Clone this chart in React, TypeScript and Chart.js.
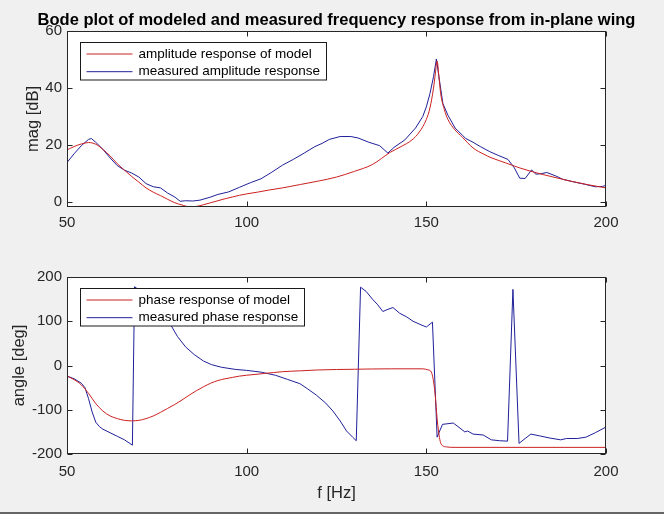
import { useEffect, useRef } from "react";
import { Chart, registerables } from "chart.js";

Chart.register(...registerables);

const FONT = '"Liberation Sans", Arial, Helvetica, sans-serif';
const RED = "#cc2020";
const BLUE = "#20209a";
const AXIS = "#262626";

// frequency axis ticks (Hz)
const freqTicks = [50, 100, 150, 200];
const magTicks = [0, 20, 40, 60];
const phaseTicks = [-200, -100, 0, 100, 200];

// model amplitude response [dB]
const magModelF = [50, 52, 54, 56, 58, 60, 62, 64, 66, 68, 70, 72, 74, 76, 78, 80, 82, 84, 86, 88, 90, 92, 94, 96, 98, 100, 103, 106, 110, 115, 120, 125, 130, 135, 140, 143, 146, 148, 150, 151, 152, 152.5, 153, 153.5, 154, 155, 156, 158, 160, 163, 166, 168, 172, 176, 180, 185, 190, 195, 200];
const magModelDb = [18.3, 19.5, 20.4, 20.9, 20.3, 18.5, 16.2, 13.5, 11.2, 9.0, 7.0, 5.0, 3.5, 2.3, 1.0, -0.2, -1.0, -1.6, -1.5, -0.9, -0.2, 0.5, 1.2, 1.8, 2.4, 2.9, 3.5, 4.2, 5.0, 6.2, 7.4, 8.8, 10.8, 13.2, 17.5, 19.5, 21.8, 24.5, 29, 33, 40, 45, 49.5, 44, 38, 32.5, 29, 25.3, 22.8, 19.0, 16.8, 15.6, 13.8, 12.0, 10.5, 8.9, 7.4, 6.1, 5.0];

// measured amplitude response [dB]
const magMeasF = [50, 52, 54, 56, 56.8, 58, 60, 62, 64, 66, 68, 70, 72, 74, 76, 78, 80, 81.5, 83, 85, 87, 90, 92, 95, 98, 101, 104, 107, 110, 113, 116, 119, 121, 123, 126, 129, 131, 134, 137, 139.3, 141, 144, 147, 149, 150, 151, 152, 152.8, 153.5, 154.6, 156, 158, 160, 161, 163, 165, 167.5, 170, 172.7, 174.5, 176, 177.5, 179.3, 180.5, 182, 183.5, 186, 188, 191, 194, 197, 199, 200];
const magMeasDb = [13.9, 17.0, 19.8, 22.0, 22.3, 21.0, 18.5, 15.5, 12.8, 11.2, 10.2, 8.8, 6.5, 5.4, 5.0, 3.2, 1.8, 0.3, 0.5, 0.4, 0.7, 1.8, 2.7, 3.6, 5.2, 6.8, 8.2, 10.5, 13.0, 15.0, 17.2, 19.5, 20.6, 22.0, 23.0, 23.0, 22.5, 21.0, 19.8, 17.2, 19.2, 21.8, 26.0, 30.0, 33.4, 38, 44, 50.2, 44, 34.6, 30.5, 26, 23.5, 22.3, 21.0, 19.5, 17.8, 16.4, 15.0, 12.0, 8.4, 8.3, 11.3, 9.8, 10.0, 10.4, 9.2, 8.0, 7.1, 6.3, 5.4, 5.5, 5.9];

// model phase response [deg]
const phaseModelF = [50, 52, 54, 56, 58, 60, 62, 64, 66, 68, 70, 72, 74, 76, 78, 80, 82, 84, 86, 88, 90, 92, 94, 96, 98, 100, 105, 110, 115, 120, 130, 140, 149, 150.5, 151.4, 152.3, 153.2, 154.1, 155.6, 158, 200];
const phaseModelDeg = [-24, -32, -44, -63, -86, -103, -114, -120, -124, -125, -124, -120, -114, -106, -97, -88, -78, -67, -57, -48, -40, -34, -30, -27, -24, -22, -18, -14, -12, -10, -8.5, -7.5, -7.5, -10, -15, -54, -136, -177, -184, -185, -185];

// measured phase response [deg]
const phaseMeasF = [50, 52, 54, 55, 56, 57, 58, 59, 60, 62, 64, 66, 68.2, 68.8, 71, 74, 77, 79, 80.7, 83, 85.4, 88, 90.2, 93, 97, 100, 104, 108, 111.4, 114.8, 117, 119.4, 122, 124, 126, 127.8, 129.5, 130.5, 131.7, 133.3, 135, 136.5, 137.9, 139, 140.7, 142.6, 144.5, 146.3, 148.5, 150, 151.7, 153, 154.5, 155.5, 157.5, 158.8, 160.7, 161.5, 163, 165.8, 168.1, 170.4, 172.6, 174.1, 175.8, 177.5, 179.1, 181.5, 184.4, 187.4, 189, 192, 194.4, 197, 200];
const phaseMeasDeg = [-24, -30, -40, -50, -75, -105, -128, -138, -144, -152, -160, -168, -180, 178, 165, 140, 108, 90, 66, 42, 24.7, 10, 2, -4, -9, -11, -15, -22, -31.5, -41, -53, -67, -85, -103, -125, -148, -162, -170, 177, 167, 150, 137, 122, 126, 131, 118, 110, 100, 92, 87, 98, -162, -133, -132, -130, -138, -150, -148, -155, -157, -168, -170, -171, 172, -176, -165, -155, -159, -164, -168, -165, -165, -162, -152, -139];

const zip = (xs: number[], ys: number[]) => xs.map((x, i) => ({ x, y: ys[i] }));

// MATLAB-like axes: white plot area, box with inward ticks, opaque legend inside
const matlabAxes = {
  id: "matlabAxes",
  beforeDatasetsDraw(chart: any) {
    const { ctx, chartArea: a } = chart;
    ctx.save();
    ctx.fillStyle = "#ffffff";
    ctx.fillRect(a.left, a.top, a.right - a.left, a.bottom - a.top);
    ctx.restore();
  },
  afterDatasetsDraw(chart: any, _args: any, opts: any) {
    const { ctx, chartArea: a, scales } = chart;
    ctx.save();
    ctx.strokeStyle = AXIS;
    ctx.lineWidth = 1;
    const L = Math.round(a.left) + 0.5;
    const R = Math.round(a.right) - 0.5;
    const T = Math.round(a.top) + 0.5;
    const B = Math.round(a.bottom) - 0.5;
    ctx.beginPath();
    scales.x.ticks.forEach((t: any) => {
      const px = Math.round(scales.x.getPixelForValue(t.value)) + 0.5;
      ctx.moveTo(px, B);
      ctx.lineTo(px, B - 5);
      ctx.moveTo(px, T);
      ctx.lineTo(px, T + 5);
    });
    scales.y.ticks.forEach((t: any) => {
      const py = Math.round(scales.y.getPixelForValue(t.value)) + 0.5;
      ctx.moveTo(L, py);
      ctx.lineTo(L + 5, py);
      ctx.moveTo(R, py);
      ctx.lineTo(R - 5, py);
    });
    ctx.stroke();
    ctx.strokeRect(L, T, R - L, B - T);

    // legend
    ctx.font = `13.5px ${FONT}`;
    const labels: string[] = chart.data.datasets.map((d: any) => d.label);
    const textW = Math.max(...labels.map((s) => ctx.measureText(s).width));
    const bx = Math.round(a.left + opts.dx) + 0.5;
    const by = Math.round(a.top + opts.dy) + 0.5;
    const bw = Math.round(58 + textW + 6);
    const bh = 37.5;
    ctx.fillStyle = "#ffffff";
    ctx.fillRect(bx, by, bw, bh);
    ctx.strokeStyle = "#1a1a1a";
    ctx.strokeRect(bx, by, bw, bh);
    chart.data.datasets.forEach((d: any, i: number) => {
      const cy = by + 11.5 + i * 17.7;
      ctx.strokeStyle = d.borderColor;
      ctx.beginPath();
      ctx.moveTo(bx + 6, cy);
      ctx.lineTo(bx + 52, cy);
      ctx.stroke();
      ctx.fillStyle = "#000000";
      ctx.textBaseline = "middle";
      ctx.fillText(d.label, bx + 58, cy);
    });

    // title, centred over the axes
    if (opts.title) {
      ctx.font = `bold 16.5px ${FONT}`;
      ctx.fillStyle = "#000000";
      ctx.textAlign = "center";
      ctx.textBaseline = "middle";
      ctx.fillText(opts.title, (a.left + a.right) / 2, 20);
    }
    ctx.restore();
  },
};

const makeConfig = (opts: any): any => ({
  type: "line",
  data: {
    datasets: [
      {
        label: opts.names[0],
        data: opts.model,
        borderColor: RED,
        borderWidth: 1,
        pointRadius: 0,
        cubicInterpolationMode: "monotone",
      },
      {
        label: opts.names[1],
        data: opts.meas,
        borderColor: BLUE,
        borderWidth: 1,
        pointRadius: 0,
        tension: 0,
      },
    ],
  },
  options: {
    responsive: false,
    animation: false,
    layout: { padding: { left: 0, right: 58, top: opts.padTop, bottom: 0 } },
    plugins: {
      legend: { display: false },
      tooltip: { enabled: false },
      title: { display: false },
      matlabAxes: { dx: 13, dy: opts.legendDy, title: opts.title },
    },
    scales: {
      x: {
        type: "linear",
        position: "bottom",
        min: 50,
        max: 200,
        grid: { display: false, drawTicks: false },
        border: { display: false },
        afterBuildTicks: (s: any) => {
          s.ticks = freqTicks.map((v) => ({ value: v }));
        },
        afterFit: (s: any) => {
          s.height = opts.xHeight;
        },
        ticks: {
          padding: opts.xTickPad,
          color: AXIS,
          font: { family: FONT, size: 15 },
          maxRotation: 0,
        },
        title: opts.xTitle
          ? {
              display: true,
              text: opts.xTitle,
              color: AXIS,
              font: { family: FONT, size: 16.5 },
              padding: { top: 0, bottom: 10.8 },
            }
          : { display: false },
      },
      y: {
        type: "linear",
        min: opts.yMin,
        max: opts.yMax,
        grid: { display: false, drawTicks: false },
        border: { display: false },
        afterBuildTicks: (s: any) => {
          s.ticks = opts.yTicks.map((v: number) => ({ value: v }));
        },
        afterFit: (s: any) => {
          s.width = 67;
        },
        ticks: {
          padding: 5,
          color: AXIS,
          font: { family: FONT, size: 15 },
        },
        title: {
          display: true,
          text: opts.yTitle,
          color: AXIS,
          font: { family: FONT, size: 16.5 },
          padding: { top: opts.yTitlePad, bottom: 0 },
        },
      },
    },
  },
  plugins: [matlabAxes],
});

const App = () => {
  const topRef = useRef<HTMLCanvasElement>(null);
  const bottomRef = useRef<HTMLCanvasElement>(null);

  useEffect(() => {
    const magChart = new Chart(
      topRef.current!,
      makeConfig({
        names: ["amplitude response of model", "measured amplitude response"],
        model: zip(magModelF, magModelDb),
        meas: zip(magMeasF, magMeasDb),
        title: "Bode plot of modeled and measured frequency response from in-plane wing",
        padTop: 31,
        legendDy: 10.7,
        xHeight: 43,
        xTickPad: 7,
        yMin: -1.7,
        yMax: 60,
        yTicks: magTicks,
        yTitle: "mag [dB]",
        yTitlePad: 24,
      })
    );
    const phaseChart = new Chart(
      bottomRef.current!,
      makeConfig({
        names: ["phase response of model", "measured phase response"],
        model: zip(phaseModelF, phaseModelDeg),
        meas: zip(phaseMeasF, phaseMeasDeg),
        padTop: 27,
        legendDy: 11.3,
        xHeight: 60,
        xTickPad: 8.5,
        xTitle: "f [Hz]",
        yMin: -200,
        yMax: 200,
        yTicks: phaseTicks,
        yTitle: "angle [deg]",
        yTitlePad: 9.8,
      })
    );
    return () => {
      magChart.destroy();
      phaseChart.destroy();
    };
  }, []);

  return (
    <div
      style={{
        position: "fixed",
        left: 0,
        top: 0,
        width: 664,
        height: 514,
        background: "#f0f0f0",
        overflow: "hidden",
      }}
    >
      <canvas ref={topRef} width={664} height={250} style={{ position: "absolute", left: 0, top: 0 }} />
      <canvas ref={bottomRef} width={664} height={264} style={{ position: "absolute", left: 0, top: 250 }} />
      <div
        style={{
          position: "absolute",
          left: 0,
          bottom: 0,
          width: 664,
          height: 2,
          background: "#666666",
        }}
      />
    </div>
  );
};

export default App;
